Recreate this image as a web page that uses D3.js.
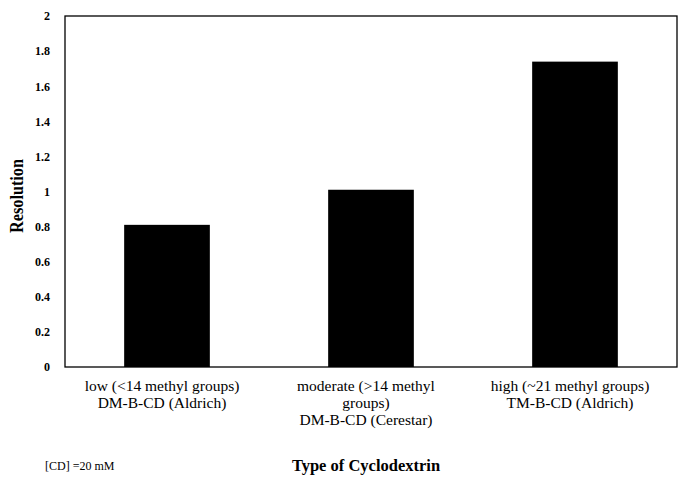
<!DOCTYPE html>
<html><head><meta charset="utf-8">
<script src="https://cdn.jsdelivr.net/npm/d3@7"></script>
<style>body{margin:0;background:#fff}svg{display:block}</style>
</head><body><svg id="c" width="679" height="477"></svg>
<script>
const categories = [
  ["low (<14 methyl groups)", "DM-B-CD (Aldrich)"],
  ["moderate (>14 methyl", "groups)", "DM-B-CD (Cerestar)"],
  ["high (~21 methyl groups)", "TM-B-CD (Aldrich)"]
];
const resolution = [0.81, 1.01, 1.74];
const yTicks = [0, 0.2, 0.4, 0.6, 0.8, 1, 1.2, 1.4, 1.6, 1.8, 2];

(function () {
const svg = d3.select("#c");
const mLeft = 65, mRight = 677, mTop = 16, mBottom = 367;
const FONT = "'Times New Roman', 'Liberation Serif', serif";
const x = d3.scaleBand().domain(d3.range(categories.length)).range([mLeft, mRight]).paddingInner(0.58).paddingOuter(0.29);
const y = d3.scaleLinear().domain([0, 2]).range([mBottom, mTop]);

svg.append("rect").attr("x", mLeft).attr("y", mTop).attr("width", mRight - mLeft).attr("height", mBottom - mTop)
  .attr("fill", "none").attr("stroke", "#000").attr("stroke-width", 1.3);

svg.selectAll("rect.bar").data(resolution).enter().append("rect").attr("class", "bar")
  .attr("x", (d, i) => x(i)).attr("width", x.bandwidth())
  .attr("y", d => y(d)).attr("height", d => y(0) - y(d)).attr("fill", "#000");

const yAxis = d3.axisLeft(y).tickValues(yTicks).tickSize(0).tickPadding(15).tickFormat(d3.format("~g"));
const ga = svg.append("g").attr("transform", `translate(${mLeft},0)`).call(yAxis);
ga.select(".domain").remove();
ga.selectAll("text").attr("font-family", FONT).attr("font-weight", "bold").attr("font-size", 12).attr("fill", "#000");

const xg = svg.append("g");
categories.forEach((lines, i) => {
  const cx = x(i) + x.bandwidth() / 2 - 5;
  const t = xg.append("text").attr("y", 391)
    .attr("text-anchor", "middle").attr("font-family", FONT).attr("font-size", 15.5).attr("fill", "#000");
  lines.forEach((l, j) => t.append("tspan").attr("x", cx).attr("dy", j === 0 ? 0 : 17).text(l));
});

svg.append("text").attr("transform", "translate(23,196) rotate(-90)").attr("text-anchor", "middle")
  .attr("font-family", FONT).attr("font-weight", "bold").attr("font-size", 18).attr("fill", "#000")
  .attr("textLength", 74).attr("lengthAdjust", "spacingAndGlyphs").text("Resolution");
svg.append("text").attr("x", 366).attr("y", 471).attr("text-anchor", "middle")
  .attr("font-family", FONT).attr("font-weight", "bold").attr("font-size", 16.5).attr("fill", "#000")
  .text("Type of Cyclodextrin");
svg.append("text").attr("x", 45).attr("y", 470)
  .attr("font-family", FONT).attr("font-size", 12).attr("fill", "#000")
  .text("[CD] =20 mM");
})();
</script></body></html>
